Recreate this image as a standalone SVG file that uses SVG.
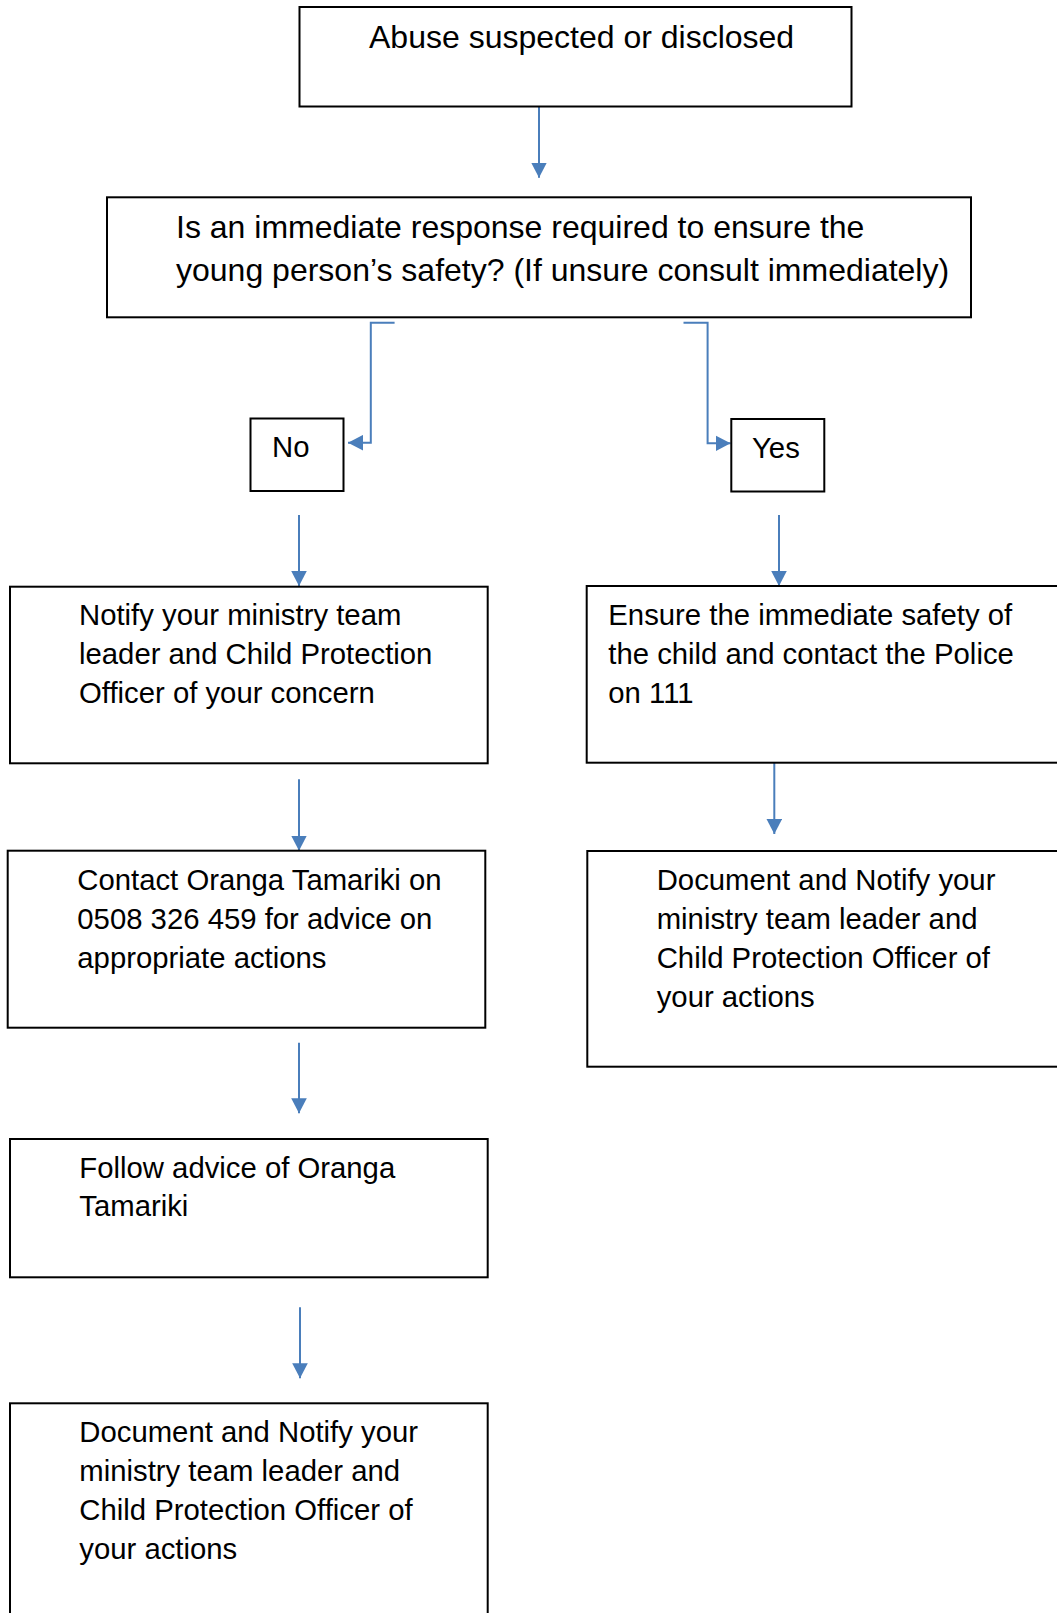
<svg xmlns="http://www.w3.org/2000/svg" width="1057" height="1613" viewBox="0 0 1057 1613">
<style>
.box{fill:#fff;stroke:#000;stroke-width:2}
.t{font-family:"Liberation Sans",Arial,sans-serif;font-size:29.3px;fill:#000}
.tb{font-family:"Liberation Sans",Arial,sans-serif;font-size:32px;fill:#000}
.c{fill:none;stroke:#4a7ebb;stroke-width:2}
</style>
<defs>
<marker id="ah" markerUnits="userSpaceOnUse" markerWidth="16" markerHeight="16" refX="15" refY="8" orient="auto">
<path d="M0,0.2 L15,8 L0,15.8 z" fill="#4a7ebb"/>
</marker>
</defs>
<rect width="1057" height="1613" fill="#fff"/>
<g id="connectors">
<path class="c" d="M539,106.7 V177.7" marker-end="url(#ah)"/>
<path class="c" d="M394.6,322.7 H370.8 V442.7 H348" marker-end="url(#ah)"/>
<path class="c" d="M683.5,322.7 H707.6 V443.3 H730.6" marker-end="url(#ah)"/>
<path class="c" d="M299,515 V586" marker-end="url(#ah)"/>
<path class="c" d="M779,515 V586" marker-end="url(#ah)"/>
<path class="c" d="M299,779.3 V850.7" marker-end="url(#ah)"/>
<path class="c" d="M774.3,762.7 V834" marker-end="url(#ah)"/>
<path class="c" d="M299,1042.7 V1113.3" marker-end="url(#ah)"/>
<path class="c" d="M300,1307.3 V1378.3" marker-end="url(#ah)"/>
</g>
<g id="n1">
<rect class="box" x="299.5" y="7" width="552" height="99.5"/>
<text class="tb" x="369" y="48">Abuse suspected or disclosed</text>
</g>
<g id="n2">
<rect class="box" x="107" y="197.3" width="864" height="120"/>
<text class="tb" x="176" y="238">Is an immediate response required to ensure the</text>
<text class="tb" x="176" y="281">young person’s safety? (If unsure consult immediately)</text>
</g>
<g id="no">
<rect class="box" x="250.5" y="418.5" width="93" height="72.5"/>
<text class="t" x="272" y="457">No</text>
</g>
<g id="yes">
<rect class="box" x="731.3" y="419" width="93" height="72.5"/>
<text class="t" x="752" y="458">Yes</text>
</g>
<g id="notify">
<rect class="box" x="10" y="586.7" width="477.7" height="176.6"/>
<text class="t" x="79" y="625">Notify your ministry team</text>
<text class="t" x="79" y="664">leader and Child Protection</text>
<text class="t" x="79" y="703">Officer of your concern</text>
</g>
<g id="ensure">
<rect class="box" x="586.7" y="586" width="480" height="176.7"/>
<text class="t" x="608.3" y="625">Ensure the immediate safety of</text>
<text class="t" x="608.3" y="664">the child and contact the Police</text>
<text class="t" x="608.3" y="703">on 111</text>
</g>
<g id="contact">
<rect class="box" x="7.7" y="850.7" width="477.6" height="177"/>
<text class="t" x="77.3" y="890">Contact Oranga Tamariki on</text>
<text class="t" x="77.3" y="929">0508 326 459 for advice on</text>
<text class="t" x="77.3" y="968">appropriate actions</text>
</g>
<g id="doc-right">
<rect class="box" x="587.3" y="851" width="480" height="215.7"/>
<text class="t" x="656.7" y="890">Document and Notify your</text>
<text class="t" x="656.7" y="929">ministry team leader and</text>
<text class="t" x="656.7" y="968">Child Protection Officer of</text>
<text class="t" x="656.7" y="1007">your actions</text>
</g>
<g id="follow">
<rect class="box" x="10" y="1139" width="477.7" height="138.3"/>
<text class="t" x="79.3" y="1177.5">Follow advice of Oranga</text>
<text class="t" x="79.3" y="1216">Tamariki</text>
</g>
<g id="doc-left">
<rect class="box" x="10" y="1403.3" width="477.7" height="230"/>
<text class="t" x="79.3" y="1442">Document and Notify your</text>
<text class="t" x="79.3" y="1481">ministry team leader and</text>
<text class="t" x="79.3" y="1520">Child Protection Officer of</text>
<text class="t" x="79.3" y="1559">your actions</text>
</g>
</svg>
